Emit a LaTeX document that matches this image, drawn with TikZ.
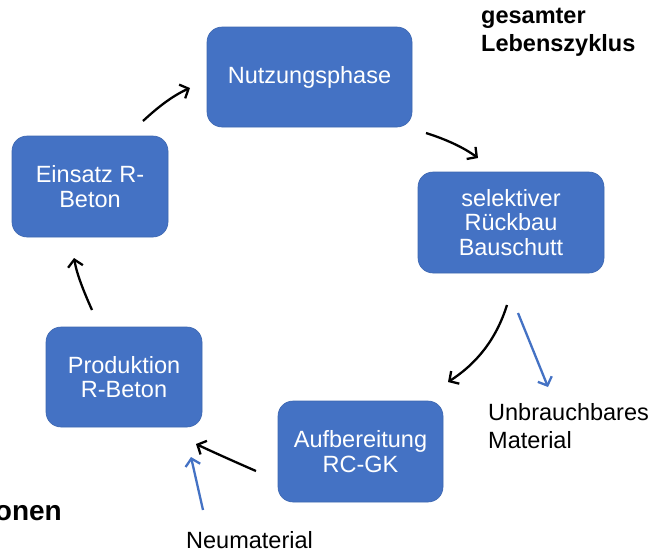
\documentclass[tikz,border=0pt]{standalone}
\usepackage{fontspec}
\setmainfont{Liberation Sans}
\usetikzlibrary{arrows.meta}
\definecolor{boxblue}{HTML}{4472C4}
\tikzset{
  phase/.style={rectangle, rounded corners=15pt, fill=boxblue, draw=boxblue!90!black, line width=0.6pt,
    text=white, align=center, inner sep=0pt,
    font=\fontsize{23.5}{24.5}\selectfont},
  freetext/.style={inner sep=0pt, align=left, font=\fontsize{23.5}{28}\selectfont},
  cyc/.style={line width=2.3pt, black, -{Straight Barb[length=7pt,width=15pt]}},
  feed/.style={line width=2.3pt, boxblue, -{Straight Barb[length=7pt,width=15pt]}}
}
\begin{document}
\begin{tikzpicture}[x=1pt,y=-1pt]
\useasboundingbox (0,0) rectangle (661,555);
% boxes
\node[phase, minimum width=205pt, minimum height=100pt] (nutz) at (309.5,77) {Nutzungsphase};
\node[phase, minimum width=156pt, minimum height=101pt] (einsatz) at (90,186.5) {Einsatz R-\\Beton};
\node[phase, minimum width=186pt, minimum height=101pt] (rueck) at (511,222.5) {selektiver\\Rückbau\\Bauschutt};
\node[phase, minimum width=156pt, minimum height=100pt] (prod) at (124,377) {Produktion\\R-Beton};
\node[phase, minimum width=165pt, minimum height=101pt] (aufb) at (360.5,451.5) {Aufbereitung\\RC-GK};
% free texts
\node[freetext, font=\bfseries\fontsize{23.5}{28}\selectfont, anchor=north west] (ges) at (481,8) {gesamter\\Lebenszyklus};
\node[freetext, anchor=north west] (unbr) at (488,403) {Unbrauchbares\\Material};
\node[freetext, anchor=north west] (neu) at (186,531) {Neumaterial};
\node[freetext, font=\bfseries\fontsize{28}{32}\selectfont, anchor=base east] (onen) at (62,520) {onen};
% arrow end points
\coordinate (a1s) at (143,121); \coordinate (a1e) at (190,88);
\coordinate (a2s) at (426,133); \coordinate (a2e) at (478,158);
\coordinate (a3s) at (507,305); \coordinate (a3e) at (448,382);
\coordinate (b1s) at (518,313); \coordinate (b1e) at (548,387);
\coordinate (a4s) at (256,471); \coordinate (a4e) at (196,444);
\coordinate (b2s) at (203,510); \coordinate (b2e) at (191,457);
\coordinate (a5s) at (92,310); \coordinate (a5e) at (74,258);
% connectors
\draw[cyc] (a1s) .. controls (157,108) and (172,96) .. (a1e);
\draw[cyc] (a2s) .. controls (445,139) and (463,147) .. (a2e);
\draw[cyc] (a3s) .. controls (496,340) and (476,364) .. (a3e);
\draw[feed] (b1s) -- (b1e);
\draw[cyc] (a4s) .. controls (233,461) and (213,452) .. (a4e);
\draw[feed] (b2s) -- (b2e);
\draw[cyc] (a5s) .. controls (84,292) and (77,275) .. (a5e);
\end{tikzpicture}
\end{document}
